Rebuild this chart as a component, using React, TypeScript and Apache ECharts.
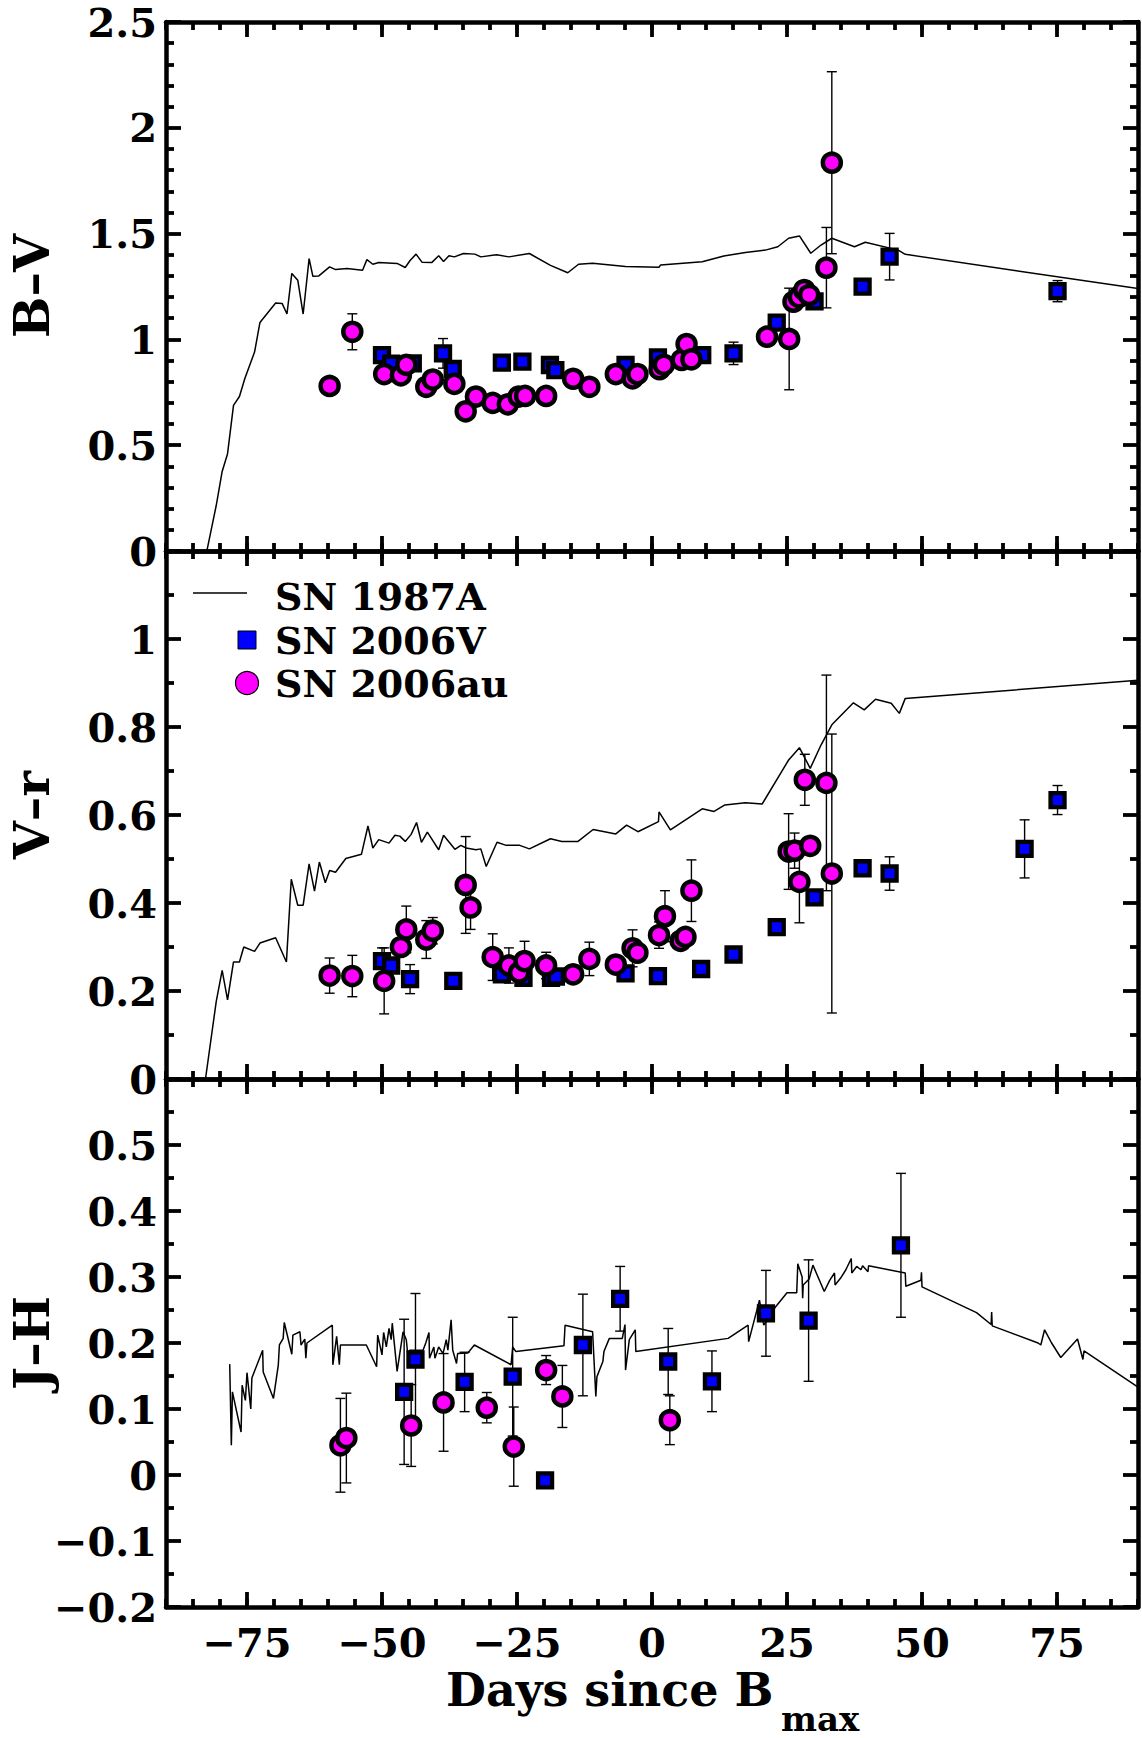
import React, { useEffect, useRef } from 'react';
import * as echarts from 'echarts';

// ---------- data ----------
const X_MAJOR = [-75, -50, -25, 0, 25, 50, 75];

// SN 1987A comparison curves [day, colour]
const BV_1987A = [
  [-82.6, -0.02], [-80.7, 0.215], [-79.6, 0.376], [-78.6, 0.46], [-77.5, 0.688], [-76.4, 0.73], [-75.4, 0.815],
  [-73.6, 0.94], [-72.6, 1.08], [-69.7, 1.172], [-68.5, 1.17], [-67.6, 1.12], [-66.7, 1.312], [-65.6, 1.28],
  [-64.6, 1.12], [-63.5, 1.382], [-62.8, 1.298], [-61.7, 1.3], [-59.7, 1.343], [-58.6, 1.33], [-56.5, 1.335],
  [-53.6, 1.327], [-52.8, 1.377], [-51.7, 1.355], [-50.6, 1.363], [-47.2, 1.359], [-45.7, 1.34], [-44.8, 1.373],
  [-43.7, 1.403], [-42.6, 1.365], [-40.8, 1.363], [-39.5, 1.395], [-38.6, 1.368], [-37.6, 1.395], [-36.6, 1.39],
  [-34.9, 1.406], [-32.8, 1.403], [-31.7, 1.39], [-28.8, 1.4], [-26.5, 1.39], [-22.7, 1.406], [-18.8, 1.35],
  [-15.6, 1.315], [-13.6, 1.355], [-11.0, 1.36], [-4.9, 1.344], [1.3, 1.341], [1.6, 1.352], [9.3, 1.367],
  [13.3, 1.394], [17.3, 1.411], [21.0, 1.422], [23.3, 1.438], [25.3, 1.478], [27.3, 1.489], [29.4, 1.407],
  [31.3, 1.446], [33.3, 1.478], [37.5, 1.438], [39.5, 1.459], [45.6, 1.422], [46.9, 1.402], [90, 1.24],
];
const VR_1987A = [
  [-82.8, -0.01], [-80.7, 0.176], [-79.6, 0.247], [-78.6, 0.18], [-77.5, 0.266], [-76.4, 0.266], [-75.6, 0.3],
  [-73.6, 0.29], [-72.6, 0.309], [-69.7, 0.321], [-67.7, 0.266], [-66.8, 0.454], [-65.6, 0.395], [-64.6, 0.395],
  [-63.5, 0.489], [-62.5, 0.427], [-61.6, 0.493], [-60.5, 0.446], [-59.7, 0.474], [-58.6, 0.47], [-56.7, 0.501],
  [-53.8, 0.511], [-52.6, 0.575], [-51.7, 0.525], [-50.6, 0.544], [-48.7, 0.536], [-47.6, 0.554], [-46.7, 0.552],
  [-45.7, 0.54], [-44.6, 0.556], [-43.6, 0.583], [-42.7, 0.538], [-41.6, 0.561], [-39.5, 0.521], [-38.6, 0.554],
  [-36.5, 0.522], [-35.4, 0.531], [-34.4, 0.525], [-32.6, 0.521], [-31.7, 0.523], [-30.7, 0.483], [-28.7, 0.538],
  [-27.0, 0.531], [-24.5, 0.531], [-22.7, 0.523], [-18.8, 0.546], [-16.7, 0.54], [-13.7, 0.54], [-10.9, 0.567],
  [-6.7, 0.557], [-4.7, 0.577], [-2.6, 0.562], [1.2, 0.585], [1.3, 0.607], [3.4, 0.566], [9.3, 0.614],
  [11.5, 0.608], [13.5, 0.623], [17.3, 0.628], [20.4, 0.625], [25.3, 0.725], [27.3, 0.753], [29.3, 0.706],
  [31.3, 0.759], [33.3, 0.805], [37.3, 0.855], [39.3, 0.839], [41.4, 0.863], [44.3, 0.854], [45.8, 0.831],
  [46.9, 0.865], [90, 0.906],
];
const JH_1987A = [
  [-78.2, 0.168], [-77.9, 0.045], [-77.7, 0.126], [-76.1, 0.065], [-75.9, 0.136], [-75.3, 0.113], [-75.0, 0.155],
  [-74.3, 0.1], [-74.1, 0.147], [-72.1, 0.189], [-72.0, 0.156], [-70.1, 0.116], [-69.2, 0.167], [-69.0, 0.197],
  [-68.3, 0.207], [-68.1, 0.231], [-66.7, 0.183], [-66.5, 0.212], [-65.2, 0.217], [-65.0, 0.197], [-64.3, 0.206],
  [-64.1, 0.177], [-63.9, 0.2], [-59.2, 0.227], [-59.1, 0.167], [-58.4, 0.21], [-57.9, 0.167], [-57.7, 0.197],
  [-52.9, 0.197], [-51.0, 0.164], [-50.8, 0.212], [-50.0, 0.182], [-49.7, 0.216], [-49.2, 0.194], [-48.7, 0.222],
  [-48.3, 0.205], [-48.1, 0.23], [-47.2, 0.157], [-46.1, 0.217], [-45.5, 0.205], [-45.0, 0.164], [-44.9, 0.189],
  [-42.4, 0.189], [-41.9, 0.2], [-41.3, 0.216], [-41.2, 0.177], [-40.4, 0.194], [-40.2, 0.177], [-39.5, 0.194],
  [-38.7, 0.184], [-38.1, 0.205], [-37.8, 0.189], [-37.2, 0.235], [-36.9, 0.189], [-36.2, 0.169], [-36.0, 0.184],
  [-34.1, 0.185], [-32.9, 0.197], [-26.1, 0.167], [-25.8, 0.194], [-25.2, 0.187], [-16.3, 0.196], [-16.1, 0.227],
  [-11.0, 0.217], [-10.4, 0.119], [-10.2, 0.149], [-9.1, 0.172], [-8.9, 0.187], [-7.9, 0.207], [-5.5, 0.207],
  [-5.0, 0.228], [-4.9, 0.159], [-4.2, 0.205], [-3.1, 0.22], [-3.0, 0.187], [14.1, 0.207], [17.8, 0.227],
  [17.9, 0.202], [19.9, 0.265], [20.7, 0.227], [22.9, 0.255], [25.0, 0.276], [26.8, 0.276], [27.0, 0.32],
  [27.8, 0.3], [27.9, 0.268], [28.0, 0.288], [29.1, 0.297], [29.8, 0.318], [31.9, 0.278], [32.9, 0.295],
  [33.8, 0.306], [33.9, 0.288], [34.9, 0.298], [35.9, 0.311], [36.9, 0.328], [37.0, 0.306], [37.9, 0.316],
  [38.7, 0.311], [39.0, 0.317], [40.0, 0.308], [40.1, 0.317], [46.9, 0.306], [47.0, 0.286], [49.8, 0.295],
  [49.9, 0.307], [50.0, 0.285], [60.1, 0.246], [62.8, 0.228], [62.9, 0.247], [63.0, 0.226], [71.5, 0.2],
  [72.0, 0.197], [72.7, 0.22], [74.0, 0.2], [75.7, 0.178], [78.8, 0.206], [79.8, 0.175], [80.0, 0.188],
  [90, 0.133],
];

// SN 2006V [day, colour, error]
const BV_2006V = [
  [-50.0, 0.926, 0], [-48.3, 0.885, 0], [-44.3, 0.887, 0.02], [-38.7, 0.934, 0.07], [-36.9, 0.86, 0],
  [-27.8, 0.89, 0], [-24.0, 0.895, 0], [-18.9, 0.879, 0], [-17.9, 0.855, 0], [-4.9, 0.879, 0], [1.1, 0.915, 0],
  [9.3, 0.926, 0], [15.1, 0.934, 0.053], [23.1, 1.079, 0], [30.1, 1.18, 0], [39.0, 1.249, 0],
  [44.0, 1.391, 0.11], [75.1, 1.228, 0.05],
];
const VR_2006V = [
  [-50.0, 0.268, 0.03], [-48.3, 0.258, 0], [-44.8, 0.227, 0.033], [-36.8, 0.223, 0], [-27.8, 0.238, 0],
  [-23.8, 0.23, 0], [-18.7, 0.23, 0], [-17.8, 0.233, 0], [-4.9, 0.24, 0], [1.1, 0.234, 0], [9.1, 0.25, 0],
  [15.1, 0.283, 0.013], [23.1, 0.345, 0], [30.1, 0.413, 0], [39.0, 0.479, 0.015], [44.0, 0.467, 0.038],
  [69.0, 0.523, 0.066], [75.1, 0.634, 0.033],
];
const JH_2006V = [
  [-45.9, 0.126, 0.11], [-43.8, 0.175, 0.1], [-34.7, 0.141, 0.045], [-25.8, 0.149, 0.09], [-19.8, -0.008, 0],
  [-12.8, 0.197, 0.077], [-5.9, 0.267, 0.049], [3.0, 0.172, 0.05], [11.1, 0.142, 0.046], [21.1, 0.245, 0.065],
  [29.0, 0.234, 0.092], [46.1, 0.348, 0.109],
];

// SN 2006au [day, colour, error]
const BV_2006AU = [
  [-59.7, 0.78, 0], [-55.5, 1.036, 0.085], [-49.6, 0.836, 0], [-46.5, 0.83, 0], [-45.5, 0.88, 0],
  [-41.8, 0.776, 0], [-40.6, 0.81, 0], [-36.6, 0.79, 0], [-34.5, 0.66, 0], [-32.6, 0.73, 0], [-29.5, 0.7, 0],
  [-26.7, 0.693, 0.03], [-24.7, 0.73, 0], [-23.5, 0.733, 0], [-19.6, 0.733, 0], [-14.6, 0.814, 0],
  [-11.6, 0.776, 0], [-6.7, 0.836, 0], [-3.6, 0.816, 0], [-2.7, 0.836, 0], [1.4, 0.859, 0], [2.2, 0.88, 0],
  [5.5, 0.903, 0], [6.4, 0.978, 0], [7.3, 0.906, 0], [21.3, 1.013, 0.03], [25.4, 1.002, 0.24],
  [26.2, 1.178, 0.03], [27.2, 1.2, 0], [28.2, 1.233, 0], [29.1, 1.21, 0], [32.3, 1.339, 0.19],
  [33.3, 1.835, 0.43],
];
const VR_2006AU = [
  [-59.7, 0.235, 0.04], [-55.5, 0.234, 0.047], [-49.6, 0.223, 0.075], [-46.5, 0.3, 0], [-45.5, 0.34, 0.053],
  [-41.8, 0.317, 0.043], [-40.6, 0.337, 0.03], [-34.5, 0.441, 0.11], [-33.6, 0.39, 0.05], [-29.5, 0.277, 0.053],
  [-26.5, 0.258, 0.04], [-24.6, 0.242, 0], [-23.6, 0.268, 0.045], [-19.6, 0.258, 0.03], [-14.6, 0.238, 0],
  [-11.6, 0.273, 0.038], [-6.7, 0.26, 0], [-3.6, 0.297, 0.042], [-2.7, 0.287, 0], [1.3, 0.327, 0.03],
  [2.4, 0.37, 0.058], [5.3, 0.314, 0], [6.2, 0.323, 0.017], [7.3, 0.428, 0.07], [25.3, 0.517, 0.086],
  [26.4, 0.519, 0.04], [27.3, 0.448, 0.093], [28.3, 0.68, 0.058], [29.3, 0.53, 0.02], [32.3, 0.673, 0.245],
  [33.3, 0.467, 0.317],
];
const JH_2006AU = [
  [-57.7, 0.045, 0.071], [-56.6, 0.056, 0.068], [-44.6, 0.075, 0.062], [-38.6, 0.11, 0.074],
  [-30.6, 0.102, 0.023], [-25.6, 0.043, 0.06], [-19.6, 0.159, 0.022], [-16.6, 0.119, 0.047], [3.3, 0.083, 0.037],
];

const PANEL_TITLES = ['B\u2013V', 'V\u2013r', 'J\u2013H'];
const LEGEND_NAMES = ['SN 1987A', 'SN 2006V', 'SN 2006au'];
const X_TITLE = 'Days since B';
const X_SUB = 'max';

// ---------- layout / style ----------
const FONT = 'DejaVu Serif';
const GRID_LEFT = 166;
const GRID_WIDTH = 972;
const GRIDS = [
  { top: 22, height: 529 },
  { top: 551, height: 528 },
  { top: 1079, height: 528 },
];
const Y_CFG = [
  { min: 0, max: 2.5, interval: 0.5, minorSplit: 5, hideMax: false },
  { min: 0, max: 1.2, interval: 0.2, minorSplit: 2, hideMax: true },
  { min: -0.2, max: 0.6, interval: 0.1, minorSplit: 2, hideMax: true },
];
const PANELS = [
  { line: BV_1987A, v: BV_2006V, au: BV_2006AU },
  { line: VR_1987A, v: VR_2006V, au: VR_2006AU },
  { line: JH_1987A, v: JH_2006V, au: JH_2006AU },
];

function fmt(v: number): string {
  const r = Math.round(v * 100) / 100;
  if (r === 0) return '0';
  return r < 0 ? '\u2212' + String(Math.abs(r)) : String(r);
}

const AXIS_LINE = { color: '#000', width: 4.5 };
const TICK_LINE = { color: '#000', width: 3.8 };
const LABEL_STYLE = { fontFamily: FONT, fontWeight: 'bold' as const, fontSize: 40, color: '#000' };

function errSeries(data: number[][], xi: number, yi: number, z: number) {
  return {
    type: 'custom',
    xAxisIndex: xi,
    yAxisIndex: yi,
    silent: true,
    z,
    clip: true,
    data: data.filter((d) => d[2] > 0).map((d) => [d[0], d[1] - d[2], d[1] + d[2]]),
    encode: { x: 0, y: [1, 2] },
    renderItem: (_params: any, api: any) => {
      const lo = api.coord([api.value(0), api.value(1)]);
      const hi = api.coord([api.value(0), api.value(2)]);
      const w = 5;
      const style = { stroke: '#000', lineWidth: 1.4, fill: 'none' };
      return {
        type: 'group',
        children: [
          { type: 'line', shape: { x1: lo[0], y1: lo[1], x2: hi[0], y2: hi[1] }, style },
          { type: 'line', shape: { x1: lo[0] - w, y1: lo[1], x2: lo[0] + w, y2: lo[1] }, style },
          { type: 'line', shape: { x1: hi[0] - w, y1: hi[1], x2: hi[0] + w, y2: hi[1] }, style },
        ],
      };
    },
  };
}

function buildOption() {
  const grid = GRIDS.map((g) => ({ left: GRID_LEFT, width: GRID_WIDTH, top: g.top, height: g.height, containLabel: false }));
  const xAxis: any[] = [];
  const yAxis: any[] = [];
  const series: any[] = [];

  GRIDS.forEach((_, g) => {
    (['bottom', 'top'] as const).forEach((pos) => {
      xAxis.push({
        type: 'value', gridIndex: g, position: pos, min: -90, max: 90,
        axisLine: { show: true, onZero: false, lineStyle: AXIS_LINE },
        axisTick: { show: true, inside: true, length: 15, lineStyle: TICK_LINE, customValues: X_MAJOR },
        axisLabel: {
          show: g === 2 && pos === 'bottom', customValues: X_MAJOR, formatter: fmt, margin: 15, ...LABEL_STYLE,
        },
        splitLine: { show: false },
      });
      xAxis.push({
        type: 'value', gridIndex: g, position: pos, min: -90, max: 90, interval: 5,
        axisLine: { show: false, onZero: false },
        axisTick: { show: true, inside: true, length: 8, lineStyle: TICK_LINE },
        axisLabel: { show: false },
        splitLine: { show: false },
      });
    });
    const c = Y_CFG[g];
    (['left', 'right'] as const).forEach((pos) => {
      yAxis.push({
        type: 'value', gridIndex: g, position: pos, min: c.min, max: c.max, interval: c.interval,
        axisLine: { show: true, onZero: false, lineStyle: AXIS_LINE },
        axisTick: { show: true, inside: true, length: 15, lineStyle: TICK_LINE },
        minorTick: { show: true, splitNumber: c.minorSplit, length: 8, lineStyle: TICK_LINE },
        axisLabel: {
          show: pos === 'left', margin: 9, ...LABEL_STYLE,
          formatter: (v: number) => (c.hideMax && Math.abs(v - c.max) < 1e-9 ? '' : fmt(v)),
        },
        splitLine: { show: false },
        minorSplitLine: { show: false },
      });
    });

    const p = PANELS[g];
    const xi = g * 4;
    const yi = g * 2;
    series.push({
      type: 'line', name: LEGEND_NAMES[0], xAxisIndex: xi, yAxisIndex: yi, data: p.line,
      showSymbol: false, symbol: 'none', silent: true, clip: true, z: 1,
      lineStyle: { color: '#000', width: 1.5 },
    });
    series.push(errSeries(p.v, xi, yi, 2));
    series.push(errSeries(p.au, xi, yi, 2));
    series.push({
      type: 'scatter', name: LEGEND_NAMES[1], xAxisIndex: xi, yAxisIndex: yi, z: 3, silent: true,
      data: p.v.map((d) => [d[0], d[1]]), symbol: 'rect', symbolSize: 14,
      itemStyle: { color: '#0000ff', borderColor: '#000', borderWidth: 4.3, opacity: 1 },
    });
    series.push({
      type: 'scatter', name: LEGEND_NAMES[2], xAxisIndex: xi, yAxisIndex: yi, z: 4, silent: true,
      data: p.au.map((d) => [d[0], d[1]]), symbol: 'circle', symbolSize: 18,
      itemStyle: { color: '#ff00ff', borderColor: '#000', borderWidth: 4.5, opacity: 1 },
    });
  });

  const titleFont = `bold 49px "${FONT}"`;
  const legendFont = `bold 38px "${FONT}"`;
  const graphic: any[] = [];
  const titleY = [286, 815, 1343];
  PANEL_TITLES.forEach((t, i) => {
    graphic.push({
      type: 'text', x: 32, y: titleY[i], rotation: Math.PI / 2,
      style: { text: t, font: titleFont, fill: '#000', align: 'center', verticalAlign: 'middle' },
    });
  });
  // legend
  graphic.push({ type: 'line', shape: { x1: 193, y1: 593, x2: 247, y2: 593 }, style: { stroke: '#000', lineWidth: 1.5 } });
  graphic.push({ type: 'rect', shape: { x: 238, y: 631, width: 18, height: 18 }, style: { fill: '#0000ff', stroke: '#000', lineWidth: 1 } });
  graphic.push({ type: 'circle', shape: { cx: 247, cy: 683, r: 11.5 }, style: { fill: '#ff00ff', stroke: '#000', lineWidth: 1.2 } });
  const legY = [596, 640, 683];
  LEGEND_NAMES.forEach((n, i) => {
    graphic.push({
      type: 'text', x: 275, y: legY[i],
      style: { text: n, font: legendFont, fill: '#000', align: 'left', verticalAlign: 'middle' },
    });
  });
  // x-axis title with subscript
  graphic.push({
    type: 'text', x: 446, y: 1690,
    style: { text: X_TITLE, font: `bold 46px "${FONT}"`, fill: '#000', align: 'left', verticalAlign: 'middle' },
  });
  graphic.push({
    type: 'text', x: 781, y: 1719,
    style: { text: X_SUB, font: `bold 34px "${FONT}"`, fill: '#000', align: 'left', verticalAlign: 'middle' },
  });

  return {
    animation: false,
    backgroundColor: '#ffffff',
    grid,
    xAxis,
    yAxis,
    series,
    graphic,
  };
}

export default function App() {
  const ref = useRef<HTMLDivElement>(null);
  useEffect(() => {
    if (!ref.current) return;
    const chart = echarts.init(ref.current, undefined, { renderer: 'svg' });
    chart.setOption(buildOption() as any);
    return () => chart.dispose();
  }, []);
  return (
    <div
      ref={ref}
      style={{ position: 'fixed', left: 0, top: 0, width: 1142, height: 1738, background: '#fff' }}
    />
  );
}
